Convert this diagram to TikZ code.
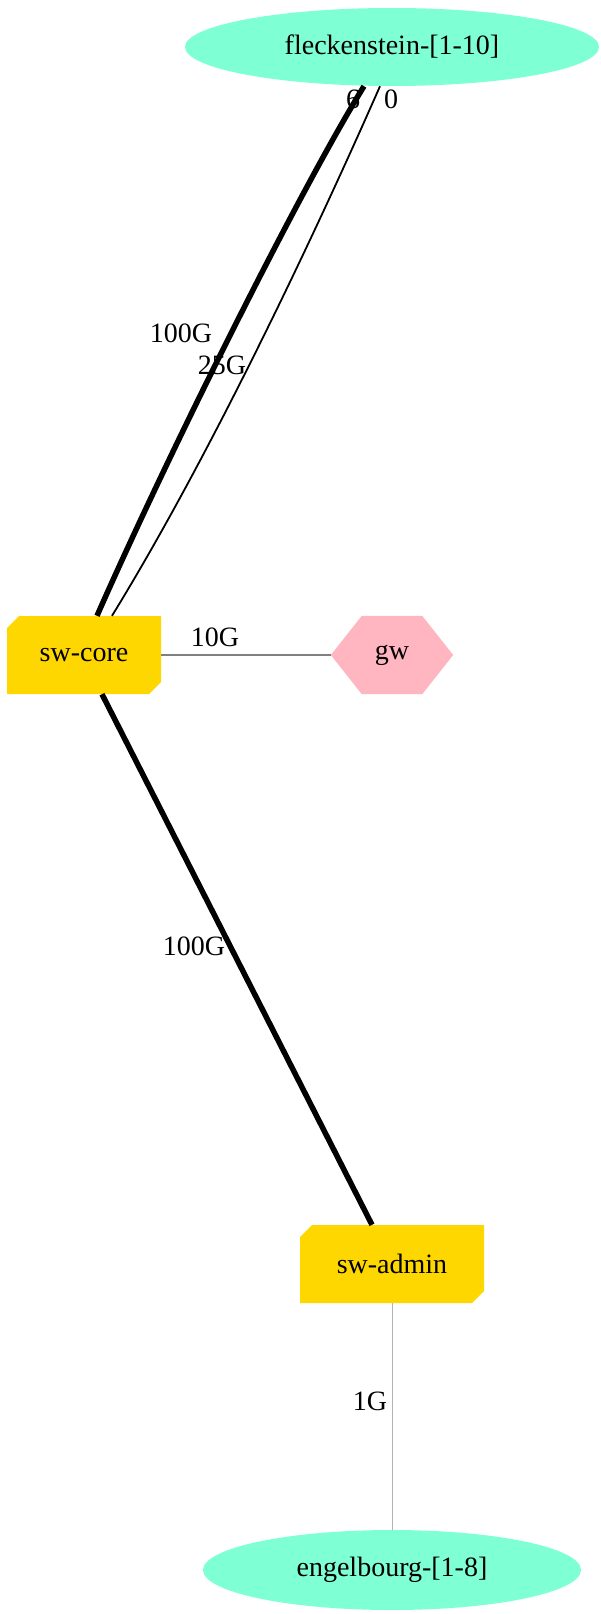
\documentclass[tikz,border=0pt]{standalone}
\usepackage{fontspec}
\setmainfont{Liberation Serif}
\usetikzlibrary{shapes.misc,shapes.geometric,calc}
\definecolor{aqua}{HTML}{7FFFD4}
\definecolor{gold}{HTML}{FFD700}
\definecolor{pinkish}{HTML}{FFB6C1}
\tikzset{
  every node/.style={font=\fontsize{28}{32}\selectfont},
  host/.style={ellipse,fill=aqua,inner sep=0pt},
  switchbox/.style={chamfered rectangle,chamfered rectangle corners={north west,south east},chamfered rectangle xsep=6pt,chamfered rectangle ysep=6pt,fill=gold,inner sep=0pt},
  lbl/.style={inner sep=1pt,font=\fontsize{28}{32}\selectfont},
  thick link/.style={line width=5.5pt},
}
\begin{document}
\begin{tikzpicture}[x=1pt,y=-1pt]
\useasboundingbox (0,0) rectangle (600,1614);
\node[host,minimum width=414pt,minimum height=78pt] (fl) at (392,47) {fleckenstein-[1-10]};
\node[switchbox,minimum width=154pt,minimum height=78pt] (core) at (84,655) {sw-core};
\node[inner sep=0pt,minimum width=122pt,minimum height=78pt] (gw) at (392,655) {};
\fill[pinkish] (gw.west) -- ($(gw.north west)+(31,0)$) -- ($(gw.north east)+(-31,0)$) -- (gw.east) -- ($(gw.south east)+(-31,0)$) -- ($(gw.south west)+(31,0)$) -- cycle;
\node at (gw) {gw};
\node[switchbox,minimum width=184pt,minimum height=78pt] (admin) at (392,1264) {sw-admin};
\node[host,minimum width=378pt,minimum height=80pt] (en) at (392,1570) {engelbourg-[1-8]};
\draw[thick link] ($(core.north)+(13,0)$) .. controls (170,450) and (300,190) .. ($(fl.south)+(-28,0)$);
\draw[line width=1.8pt] ($(core.north)+(28,0)$) .. controls (220,440) and (330,200) .. ($(fl.south)+(-12,0)$);
\draw[thick link] ($(core.south)+(18,0)$) -- ($(admin.north)+(-20,0)$);
\draw[gray,line width=1.2pt] (core.east) -- (gw.west);
\draw[gray!60,line width=0.8pt] (admin.south) -- (en.north);
\node[lbl] (l1) at (181,333) {100G};
\node[lbl] (l2) at (222,365) {25G};
\node[lbl] (l3) at (353,99) {6};
\node[lbl] (l4) at (391,99) {0};
\node[lbl] (l5) at (215,637) {10G};
\node[lbl] (l6) at (194,946) {100G};
\node[lbl] (l7) at (370,1401) {1G};
\end{tikzpicture}
\end{document}
